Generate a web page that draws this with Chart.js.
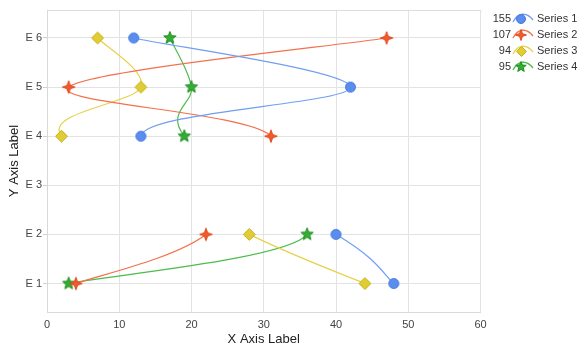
<!DOCTYPE html>
<html><head><meta charset="utf-8">
<script src="https://cdn.jsdelivr.net/npm/chart.js@4/dist/chart.umd.min.js"></script>
<style>html,body{margin:0;padding:0;background:#fff;overflow:hidden}</style>
</head><body>
<canvas id="c" width="585" height="353"></canvas>
<script>
// ---- data ----
const categories = ['E 1', 'E 2', 'E 3', 'E 4', 'E 5', 'E 6'];
const xTicks = [0, 10, 20, 30, 40, 50, 60];
const seriesNames = ['Series 1', 'Series 2', 'Series 3', 'Series 4'];
const series1 = [48, 40, null, 13, 42, 12];
const series2 = [4, 22, null, 31, 3, 47];
const series3 = [44, 28, null, 2, 13, 7];
const series4 = [3, 36, null, 19, 20, 17];
const legendValues = [155, 107, 94, 95];

const FONT = '"Liberation Sans", Arial, sans-serif';

// ---- marker images ----
function makeStar(points, outer, inner, fill, stroke) {
  const s = Math.ceil(outer * 2 + 3);
  const c = document.createElement('canvas');
  c.width = s; c.height = s;
  const g = c.getContext('2d');
  g.translate(s / 2, s / 2);
  g.beginPath();
  for (let i = 0; i < points * 2; i++) {
    const r = i % 2 === 0 ? outer : inner;
    const a = -Math.PI / 2 + i * Math.PI / points;
    const px = r * Math.cos(a), py = r * Math.sin(a);
    i === 0 ? g.moveTo(px, py) : g.lineTo(px, py);
  }
  g.closePath();
  g.fillStyle = fill; g.fill();
  g.lineWidth = 1; g.strokeStyle = stroke; g.stroke();
  return c;
}
function makeDiamond(r, fill, stroke) {
  const s = Math.ceil(r * 2 + 3);
  const c = document.createElement('canvas');
  c.width = s; c.height = s;
  const g = c.getContext('2d');
  g.translate(s / 2, s / 2);
  g.beginPath();
  g.moveTo(0, -r); g.lineTo(r, 0); g.lineTo(0, r); g.lineTo(-r, 0); g.closePath();
  g.fillStyle = fill; g.fill();
  g.lineWidth = 1; g.strokeStyle = stroke; g.stroke();
  return c;
}
function makeCircle(r, fill, stroke) {
  const s = Math.ceil(r * 2 + 3);
  const c = document.createElement('canvas');
  c.width = s; c.height = s;
  const g = c.getContext('2d');
  g.beginPath(); g.arc(s / 2, s / 2, r, 0, Math.PI * 2);
  g.fillStyle = fill; g.fill();
  g.lineWidth = 1; g.strokeStyle = stroke; g.stroke();
  return c;
}

const styles = [
  { line: '#6f9ef2', marker: makeCircle(5, '#5b8def', '#4377dd'), small: makeCircle(4.5, '#5b8def', '#4377dd') },
  { line: '#f4704c', marker: makeStar(4, 6.3, 2.3, '#f25a2c', '#e04a1e'), small: makeStar(4, 5.5, 2, '#f25a2c', '#e04a1e') },
  { line: '#e6d24a', marker: makeDiamond(6, '#e0cd35', '#c7b21d'), small: makeDiamond(5, '#e0cd35', '#c7b21d') },
  { line: '#4dbb4d', marker: makeStar(5, 6.5, 2.8, '#33ad33', '#1f8f1f'), small: makeStar(5, 5.5, 2.4, '#33ad33', '#1f8f1f') }
];

function toPoints(vals) {
  const out = [];
  vals.forEach((v, i) => { if (v !== null) out.push({ x: v, y: i + 1 }); });
  return out;
}

const allSeries = [series1, series2, series3, series4];
const datasets = allSeries.map((vals, k) => ({
  label: seriesNames[k],
  data: toPoints(vals),
  borderColor: styles[k].line,
  borderWidth: 1.2,
  tension: 0.4,
  fill: false,
  pointStyle: styles[k].marker,
  pointRadius: 6,
  pointHoverRadius: 6,
  segment: {
    borderColor: ctx => (Math.abs(ctx.p1.parsed.y - ctx.p0.parsed.y) > 1.5 ? 'rgba(0,0,0,0)' : undefined)
  }
}));

// Catmull-Rom control points computed from the library's own point positions
const splinePlugin = {
  id: 'spline',
  beforeDatasetsDraw(chart) {
    chart.getSortedVisibleDatasetMetas().forEach(meta => {
      const pts = meta.data;
      const n = pts.length;
      for (let i = 0; i < n; i++) {
        const p = pts[i];
        const prev = pts[Math.max(0, i - 1)];
        const next = pts[Math.min(n - 1, i + 1)];
        const dx = (next.x - prev.x) / 6, dy = (next.y - prev.y) / 6;
        p.cp1x = p.x - dx; p.cp1y = p.y - dy;
        p.cp2x = p.x + dx; p.cp2y = p.y + dy;
      }
      if (meta.dataset) meta.dataset._pointsUpdated = true;
    });
  }
};

const framePlugin = {
  id: 'frame',
  beforeDatasetsDraw(chart) {
    const a = chart.chartArea, g = chart.ctx;
    g.save();
    g.strokeStyle = '#dedede'; g.lineWidth = 1;
    g.beginPath();
    g.moveTo(Math.round(a.left) + 0.5, Math.round(a.top) + 0.5);
    g.lineTo(Math.round(a.right) + 0.5, Math.round(a.top) + 0.5);
    g.stroke();
    g.restore();
  }
};

const legendPlugin = {
  id: 'customLegend',
  afterDraw(chart) {
    const g = chart.ctx;
    g.save();
    g.font = '11px ' + FONT;
    g.textBaseline = 'middle';
    seriesNames.forEach((name, k) => {
      const y = 19 + k * 16;
      g.fillStyle = '#333';
      g.textAlign = 'right';
      g.fillText(String(legendValues[k]), 511, y);
      g.textAlign = 'left';
      g.fillText(name, 537, y);
      const cx = 523;
      g.strokeStyle = styles[k].line; g.lineWidth = 1.3;
      g.beginPath();
      g.moveTo(cx - 10, y + 3);
      g.bezierCurveTo(cx - 5, y - 7, cx + 4, y - 7, cx + 10, y + 1);
      g.stroke();
      const m = styles[k].small;
      g.drawImage(m, Math.round(cx - 2 - m.width / 2), Math.round(y - m.height / 2));
    });
    g.restore();
  }
};

new Chart(document.getElementById('c'), {
  type: 'line',
  data: { datasets },
  plugins: [splinePlugin, framePlugin, legendPlugin],
  options: {
    indexAxis: 'y',
    responsive: false,
    animation: false,
    devicePixelRatio: 1,
    layout: { padding: { top: 10, right: 104.5, left: 0, bottom: 0 } },
    plugins: { legend: { display: false }, tooltip: { enabled: false } },
    scales: {
      x: {
        type: 'linear', min: 0, max: 60,
        afterBuildTicks: s => { s.ticks = xTicks.map(v => ({ value: v })); },
        afterFit: s => { s.height = 41; },
        grid: { color: '#e3e3e3', drawTicks: false },
        border: { color: '#d9d9d9' },
        ticks: { font: { size: 11, family: FONT }, color: '#444', padding: 6, maxRotation: 0 },
        title: { display: true, text: 'X Axis Label', font: { size: 13, family: FONT }, color: '#222', padding: { top: 0, bottom: 6 } }
      },
      y: {
        type: 'linear', min: 0.42, max: 6.57,
        afterBuildTicks: s => { s.ticks = categories.map((c, i) => ({ value: i + 1 })); },
        afterFit: s => { s.width = 47; },
        grid: { color: '#e3e3e3', tickLength: 4, tickColor: '#cfcfcf' },
        border: { color: '#d9d9d9' },
        ticks: { font: { size: 11, family: FONT }, color: '#444', padding: 1,
          callback: v => categories[Math.round(v) - 1] },
        title: { display: true, text: 'Y Axis Label', font: { size: 13, family: FONT }, color: '#222', padding: { top: 7, bottom: 0 } }
      }
    }
  }
});
</script>
</body></html>
